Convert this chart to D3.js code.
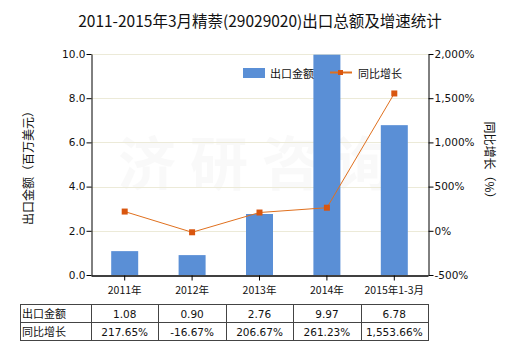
<!DOCTYPE html>
<html>
<head>
<meta charset="utf-8">
<script src="https://cdn.jsdelivr.net/npm/d3@7"></script>
<style>
  html, body { margin: 0; padding: 0; background: #fff; }
  svg { display: block; font-family: "Microsoft YaHei", "Noto Sans CJK SC", sans-serif; }
</style>
</head>
<body>
<svg id="chart" width="520" height="350"></svg>
<script>
// Export value (million USD) and year-on-year growth (%)
const categories = ["2011年", "2012年", "2013年", "2014年", "2015年1-3月"];
const exportValues = [1.08, 0.90, 2.76, 9.97, 6.78];
const growthRates = [217.65, -16.67, 206.67, 261.23, 1553.66];
const leftTicks = [0, 2, 4, 6, 8, 10];
const rightTicks = [-500, 0, 500, 1000, 1500, 2000];
const rowLabels = ["出口金额", "同比增长"];

const svg = d3.select("#chart");
const fontCJK = '"Noto Sans CJK SC", sans-serif';
const fontNum = '"DejaVu Sans", sans-serif';

// Number formatting with a plain hyphen for negatives
const locale = d3.formatLocale({ decimal: ".", thousands: ",", grouping: [3], currency: ["", ""], minus: "-" });
const fmt1 = locale.format(".1f");
const fmt2 = locale.format(".2f");
const fmtC2 = locale.format(",.2f");
const fmtC = locale.format(",");

const plot = { left: 91, right: 428, top: 54, bottom: 275 };

const x = d3.scaleBand().domain(categories).range([plot.left, plot.right]).paddingInner(0).paddingOuter(0);
const yL = d3.scaleLinear().domain([0, 10]).range([plot.bottom, plot.top]);
const yR = d3.scaleLinear().domain([-500, 2000]).range([plot.bottom, plot.top]);

// Title
svg.append("text")
  .attr("x", 260).attr("y", 27)
  .attr("text-anchor", "middle")
  .style("font-family", fontCJK)
  .style("font-size", "15.5px")
  .attr("fill", "#111")
  .text("2011-2015年3月精萘(29029020)出口总额及增速统计");

// Faint watermark
svg.append("text")
  .attr("x", 262).attr("y", 185)
  .attr("text-anchor", "middle")
  .style("font-family", fontCJK)
  .style("font-size", "58px")
  .style("font-weight", "bold")
  .style("letter-spacing", "14px")
  .attr("fill", "#000")
  .attr("opacity", 0.018)
  .text("济研咨询");

// Grid lines
svg.append("g").selectAll("line")
  .data(leftTicks.filter(d => d > 0))
  .join("line")
  .attr("x1", plot.left).attr("x2", plot.right)
  .attr("y1", d => Math.round(yL(d)) + 0.5).attr("y2", d => Math.round(yL(d)) + 0.5)
  .attr("stroke", "#ecead8").attr("stroke-width", 1);

// Bars
const barW = 27;
svg.append("g").selectAll("rect")
  .data(exportValues)
  .join("rect")
  .attr("x", (d, i) => x(categories[i]) + x.bandwidth() / 2 - barW / 2)
  .attr("y", d => yL(d))
  .attr("width", barW)
  .attr("height", d => plot.bottom - yL(d))
  .attr("fill", "#5a8fd6");

// Left axis
const leftAxis = d3.axisLeft(yL).tickValues(leftTicks).tickFormat(fmt1).tickSize(5).tickSizeOuter(0);
const gL = svg.append("g").attr("transform", `translate(${plot.left + 0.5},0)`).call(leftAxis);
gL.select(".domain").attr("stroke", "#000");
gL.selectAll(".tick line").attr("stroke", "#000");
gL.selectAll(".tick text").style("font-family", fontNum).style("font-size", "10.5px").attr("fill", "#111").attr("x", -6);

// Right axis
const rightAxis = d3.axisRight(yR).tickValues(rightTicks).tickFormat(d => fmtC(d) + "%").tickSize(5).tickSizeOuter(0);
const gR = svg.append("g").attr("transform", `translate(${plot.right + 0.5},0)`).call(rightAxis);
gR.select(".domain").attr("stroke", "#000");
gR.selectAll(".tick line").attr("stroke", "#000");
gR.selectAll(".tick text").style("font-family", fontNum).style("font-size", "10.5px").attr("fill", "#111").attr("x", 6);

// Bottom axis
const bottomAxis = d3.axisBottom(x).tickSize(5).tickSizeOuter(0).tickFormat("");
const gB = svg.append("g").attr("transform", `translate(0,${plot.bottom + 0.5})`).call(bottomAxis);
gB.select(".domain").attr("stroke", "#000").attr("stroke-width", 1.5);
gB.selectAll(".tick line").attr("stroke", "#000");

// Category labels
svg.append("g").selectAll("text")
  .data(categories)
  .join("text")
  .attr("x", d => x(d) + x.bandwidth() / 2)
  .attr("y", 294)
  .attr("text-anchor", "middle")
  .style("font-family", fontCJK)
  .style("font-size", "10.5px")
  .attr("fill", "#111")
  .text(d => d);

// Growth line
const line = d3.line()
  .x((d, i) => x(categories[i]) + x.bandwidth() / 2)
  .y(d => yR(d));
svg.append("path")
  .datum(growthRates)
  .attr("d", line)
  .attr("fill", "none")
  .attr("stroke", "#e0701e")
  .attr("stroke-width", 1);
svg.append("g").selectAll("rect")
  .data(growthRates)
  .join("rect")
  .attr("x", (d, i) => x(categories[i]) + x.bandwidth() / 2 - 3)
  .attr("y", d => yR(d) - 3)
  .attr("width", 6).attr("height", 6)
  .attr("fill", "#d9560f");

// Axis titles
svg.append("text")
  .attr("transform", "translate(33,165) rotate(-90)")
  .attr("text-anchor", "middle")
  .style("font-family", fontCJK)
  .style("font-size", "12px")
  .attr("fill", "#111")
  .text("出口金额（百万美元）");
svg.append("text")
  .attr("transform", "translate(485,163) rotate(90)")
  .attr("text-anchor", "middle")
  .style("font-family", fontCJK)
  .style("font-size", "12px")
  .attr("fill", "#111")
  .text("同比增长（%）");

// Legend
const lg = svg.append("g");
lg.append("rect").attr("x", 243).attr("y", 68).attr("width", 22).attr("height", 10).attr("fill", "#5a8fd6");
lg.append("text").attr("x", 270).attr("y", 77.5).style("font-family", fontCJK).style("font-size", "11px").attr("fill", "#111").text("出口金额");
lg.append("line").attr("x1", 330).attr("x2", 352).attr("y1", 72.5).attr("y2", 72.5).attr("stroke", "#e0701e").attr("stroke-width", 2);
lg.append("rect").attr("x", 338).attr("y", 70).attr("width", 5).attr("height", 5).attr("fill", "#d9560f");
lg.append("text").attr("x", 358).attr("y", 77.5).style("font-family", fontCJK).style("font-size", "11px").attr("fill", "#111").text("同比增长");

// Data table
const table = svg.append("g");
const tTop = 304, tMid = 322, tBot = 340, tLeft = 20;
const colEdges = [tLeft].concat(categories.map(c => x(c))).concat([plot.right]);
const rowsData = [
  exportValues.map(d => fmt2(d)),
  growthRates.map(d => fmtC2(d) + "%")
];
table.append("rect").attr("x", tLeft + 0.5).attr("y", tTop + 0.5)
  .attr("width", plot.right - tLeft).attr("height", tBot - tTop)
  .attr("fill", "none").attr("stroke", "#444");
table.append("line").attr("x1", tLeft).attr("x2", plot.right + 0.5).attr("y1", tMid + 0.5).attr("y2", tMid + 0.5).attr("stroke", "#444");
colEdges.slice(1, -1).forEach(cx => {
  table.append("line").attr("x1", Math.round(cx) + 0.5).attr("x2", Math.round(cx) + 0.5)
    .attr("y1", tTop).attr("y2", tBot).attr("stroke", "#444");
});
rowLabels.forEach((lab, r) => {
  const yy = (r === 0 ? tTop : tMid) + 13.5;
  table.append("text").attr("x", tLeft + 2).attr("y", yy)
    .style("font-family", fontCJK).style("font-size", "11px").attr("fill", "#111").text(lab);
  rowsData[r].forEach((v, i) => {
    table.append("text")
      .attr("x", x(categories[i]) + x.bandwidth() / 2)
      .attr("y", yy)
      .attr("text-anchor", "middle")
      .style("font-family", fontNum).style("font-size", "10.5px").attr("fill", "#111")
      .text(v);
  });
});
</script>
</body>
</html>
